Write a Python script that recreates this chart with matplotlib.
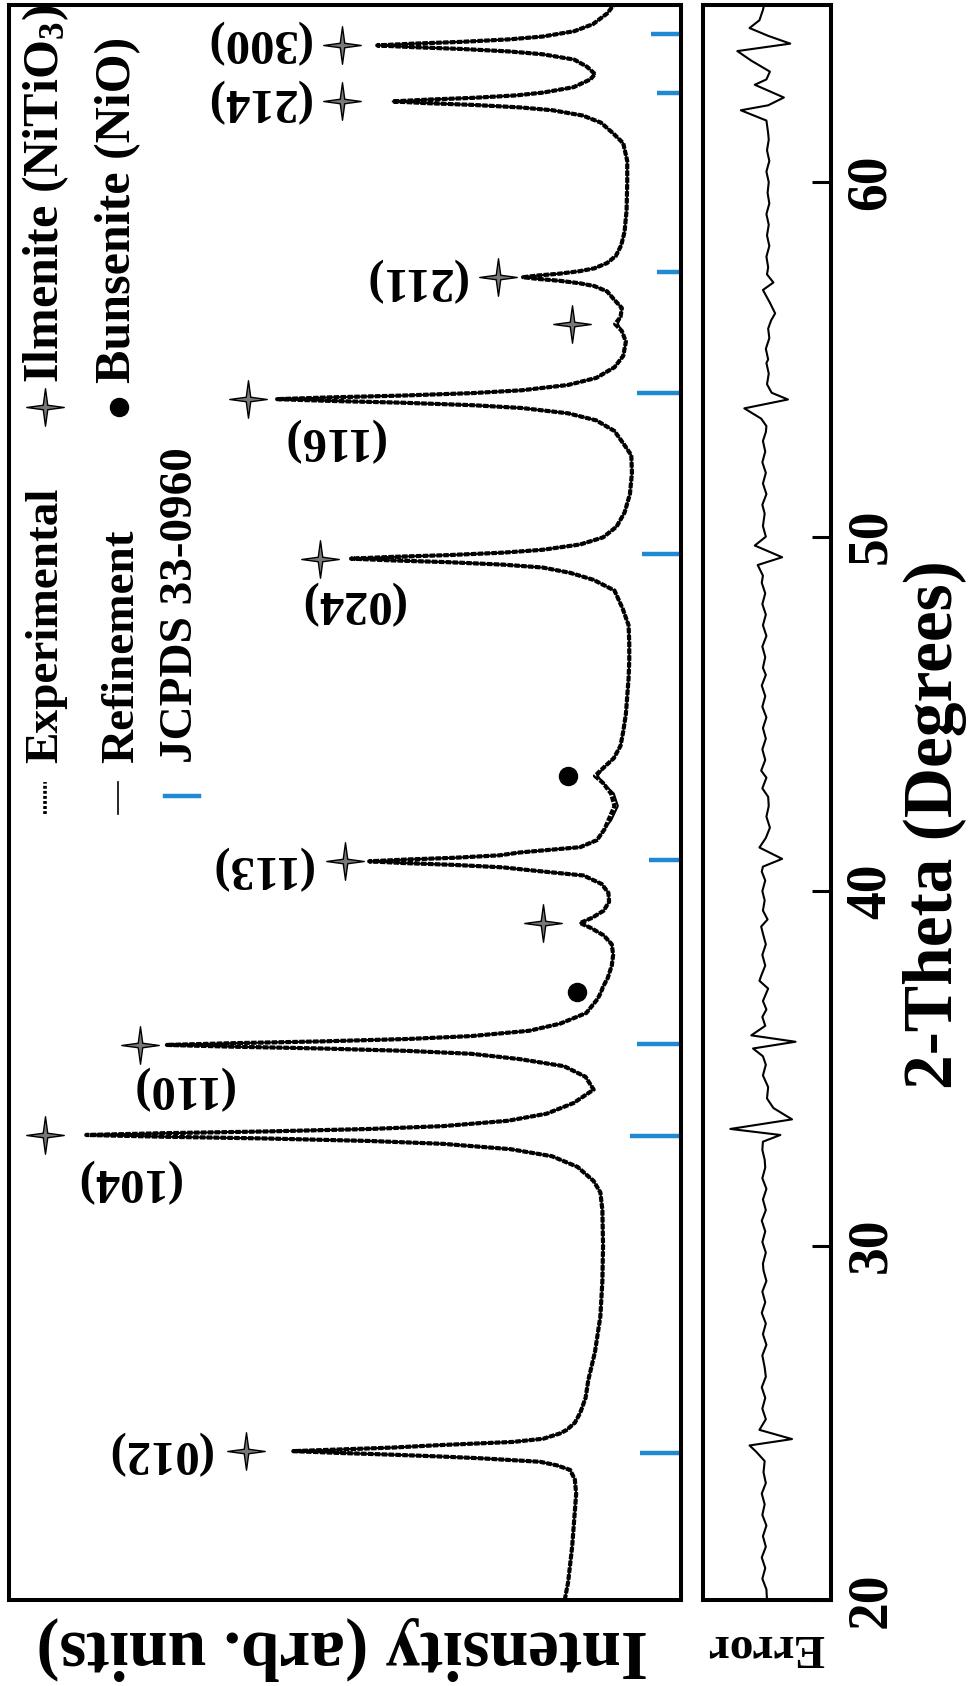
import numpy as np
import matplotlib
matplotlib.use("Agg")
import matplotlib.pyplot as plt
from matplotlib.path import Path

plt.rcParams['font.family'] = ['Liberation Serif', 'DejaVu Serif']
plt.rcParams['font.weight'] = 'bold'
plt.rcParams['mathtext.fontset'] = 'custom'
plt.rcParams['mathtext.rm'] = 'Liberation Serif:bold'
plt.rcParams['mathtext.it'] = 'Liberation Serif:bold'
plt.rcParams['mathtext.bf'] = 'Liberation Serif:bold'

# ---- data (chart is drawn rotated: 2-theta runs upward) ----
two_theta = [20.0, 20.5, 21.0, 21.5, 22.0, 22.5, 23.0, 23.4, 23.67, 23.8, 23.9, 24.0, 24.05, 24.1,
             24.15, 24.2, 24.25, 24.3, 24.37, 24.46, 24.55, 24.7, 24.8, 25.0, 25.28, 25.7, 26.2, 27.0,
             28.0, 29.0, 30.0, 31.0, 31.5,
             31.82, 32.22, 32.52, 32.72, 32.87, 32.95, 33.02, 33.07, 33.12, 33.17, 33.22,
             33.29, 33.37, 33.52, 33.72, 34.02, 34.4, 34.76, 35.06, 35.26, 35.41, 35.49, 35.56, 35.61,
             35.66, 35.71, 35.76, 35.83, 35.91, 36.06, 36.26, 36.56, 36.96, 37.15, 37.3, 37.55, 37.9,
             38.2, 38.5, 38.75, 38.95, 39.1, 39.25, 39.45, 39.7, 39.95, 40.2, 40.44, 40.59, 40.67,
             40.74, 40.79, 40.84, 40.89, 40.94, 41.01, 41.09, 41.24, 41.44, 41.74, 42.0, 42.4, 42.75,
             43.05, 43.25, 43.45, 43.75, 44.1, 44.5, 45.0, 45.5, 46.0, 46.5, 47.0, 47.5, 47.98, 48.48,
             48.78, 48.98, 49.13, 49.21, 49.28, 49.33, 49.38, 49.43, 49.48, 49.55, 49.63, 49.78, 49.98,
             50.28, 50.68, 51.2, 51.8, 52.3, 52.58, 52.98, 53.28, 53.48, 53.63, 53.71, 53.78, 53.83,
             53.88, 53.93, 53.98, 54.05, 54.13, 54.28, 54.48, 54.78, 55.1, 55.5, 55.8, 56.0, 56.2,
             56.45, 56.7, 56.92, 57.07, 57.15, 57.22, 57.27, 57.32, 57.37, 57.42, 57.49, 57.57, 57.72,
             57.92, 58.22, 58.6, 59.2, 60.0, 60.6, 61.1, 61.38, 61.68, 61.88, 62.03, 62.11, 62.18,
             62.23, 62.28, 62.33, 62.38, 62.45, 62.53, 62.68, 62.9, 63.05, 63.26, 63.46, 63.61, 63.69,
             63.76, 63.81, 63.86, 63.91, 63.96, 64.03, 64.11, 64.26, 64.46, 64.76, 65.0]
intensity_exp = [173, 168, 165, 162, 160, 158, 156, 158, 165, 185, 210, 300, 360, 430,
                 510, 577, 505, 430, 359, 250, 205, 180, 170, 158, 150, 142, 138, 128,
                 120, 117, 116, 117, 120,
                 130, 154, 192, 254, 354, 462, 615, 770, 885, 770, 615,
                 462, 354, 258, 200, 160, 130, 142, 174, 240, 312, 404, 535, 666,
                 765, 666, 535, 404, 312, 226, 180, 141, 124, 119, 116, 109, 103,
                 101, 103, 115, 133, 150, 132, 115, 107, 108, 118, 145, 225, 265,
                 338, 410, 464, 410, 338, 270, 240, 150, 125, 114, 108, 99, 104,
                 116, 128, 117, 100, 90, 86, 82, 80, 78, 77, 77, 78, 87, 99,
                 130, 165, 206, 264, 346, 429, 491, 429, 346, 264, 206, 150, 116,
                 96, 84, 76, 73, 74, 84, 99, 126, 168, 237, 311, 416, 522,
                 601, 522, 416, 311, 237, 168, 126, 99, 86, 82, 88, 98, 90,
                 88, 100, 110, 129, 151, 181, 212, 235, 212, 181, 151, 129, 110,
                 97, 89, 84, 81, 80, 80, 86, 101, 119, 146, 191, 239, 308,
                 377, 429, 377, 310, 245, 205, 160, 135, 128, 140, 159, 206, 256,
                 327, 398, 452, 398, 327, 256, 206, 159, 131, 110, 100]
# where the refinement line visibly departs from the measured one
refine_fix = {42.0: 104, 42.4: 94, 42.75: 100, 43.25: 124, 33.12: 878, 35.66: 758, 56.0: 94}
intensity_ref = [refine_fix.get(t, v) for t, v in zip(two_theta, intensity_exp)]

# JCPDS 33-0960 reference lines
jcpds_theta = [24.15, 33.1, 35.68, 40.88, 49.5, 54.05, 57.48, 62.52, 64.18]
jcpds_len = [61, 76, 65, 48, 58, 65, 36, 36, 45]

# indexed ilmenite peaks
hkl_labels = ['(012)', '(104)', '(110)', '(113)', '(024)', '(116)', '(211)', '(214)', '(300)']
hkl_theta = [24.2, 33.12, 35.66, 40.84, 49.38, 53.88, 57.32, 62.28, 63.86]
star_int = [647, 946, 805, 500, 537, 644, 272, 504, 504]
label_theta = [24.18, 31.85, 34.48, 40.69, 48.14, 52.74, 57.28, 62.31, 63.97]
label_int = [778, 824, 744, 625, 491, 519, 397, 631, 631]
# minor ilmenite peaks and NiO peaks
minor_theta = [39.1, 56.0]
minor_int = [205, 162]
nio_theta = [37.15, 43.24]
nio_int = [155, 168]

# difference curve
err_theta = [20.0, 20.3, 20.6, 20.9, 21.2, 21.5, 21.8, 22.1, 22.4, 22.7, 23.0, 23.3, 23.6, 23.92,
             24.19, 24.36, 24.54, 24.8, 25.1, 25.4, 25.7, 26.0, 26.3, 26.56, 26.9, 27.2, 27.5, 27.8,
             28.1, 28.4, 28.7, 29.0, 29.3, 29.49, 29.8, 30.1, 30.4, 30.7, 31.0, 31.3, 31.6, 31.9,
             32.2, 32.42, 32.7, 32.93, 33.12, 33.29, 33.56, 33.88, 34.15, 34.47, 34.8, 35.1, 35.34,
             35.56, 35.75, 35.93, 36.2, 36.45, 36.66, 36.9, 37.25, 37.47, 37.61, 37.9, 38.2, 38.5,
             38.8, 39.0, 39.2, 39.45, 39.74, 40.0, 40.3, 40.55, 40.69, 40.91, 41.23, 41.5, 41.79,
             42.1, 42.4, 42.66, 42.9, 43.2, 43.4, 43.7, 44.0, 44.3, 44.6, 44.9, 45.2, 45.5, 45.8,
             46.1, 46.3, 46.6, 46.9, 47.2, 47.5, 47.8, 48.1, 48.4, 48.7, 48.9, 49.2, 49.42, 49.75,
             50.0, 50.3, 50.65, 50.9, 51.2, 51.5, 51.8, 52.1, 52.4, 52.7, 52.95, 53.12, 53.33, 53.62,
             53.87, 54.06, 54.3, 54.6, 54.9, 55.0, 55.3, 55.6, 55.87, 56.1, 56.3, 56.6, 56.96, 57.17,
             57.4, 57.6, 57.9, 58.2, 58.5, 58.8, 59.1, 59.4, 59.7, 60.0, 60.3, 60.6, 60.9, 61.2,
             61.38, 61.74, 62.03, 62.17, 62.39, 62.75, 62.9, 63.12, 63.43, 63.7, 63.91, 64.13,
             64.35, 64.57, 64.86, 65.0]
err_val = [-0.5, -0.4, 0.3, -0.2, 0.4, -0.3, 0.2, -0.4, 0.3, -0.1, 0.4, -0.3, 0.1, -0.1,
           1.4, 2.5, -4.8, 0.8, -0.3, 0.3, -0.2, 0.4, -0.3, -0.1, 0.3, -0.4, 0.2, -0.3,
           0.4, -0.2, 0.3, -0.4, 0.1, 0.2, -0.3, 0.3, -0.2, 0.4, -0.3, 0.2, -0.4, 0.3,
           -0.2, -0.1, 0.3, 0.2, -2.8, 5.8, -4.8, -1.6, -0.5, -0.7, 0.2, -0.3, 0.2,
           1.9, -5.4, 2.2, -0.2, 0.3, -0.4, 0.2, -0.7, 0.8, 0.5, -0.2, 0.3, -0.3,
           0.2, 0.5, -0.6, 0.2, -0.1, 0.3, -0.2, 0.4, 0.2, -3.1, 0.8, -0.3, -1.0,
           -0.4, -0.8, -0.7, 0.3, -0.4, 0.5, -0.2, 0.3, -0.3, 0.2, -0.4, 0.3, -0.2, 0.4,
           -0.3, 0.2, -0.2, 0.3, -0.4, 0.2, -0.3, 0.3, -0.2, 0.4, 0.2, 1.1, -3.1, 1.6,
           -0.3, 0.2, -0.1, 0.3, -0.4, 0.2, -0.3, 0.3, -0.2, 0.2, -0.3, -0.4, 0.5, 3.4,
           -4.1, -1.3, -0.5, -0.8, -0.4, -0.7, -0.3, -0.9, -0.7, -1.2, -1.9, -1.0, 0.2, -1.6,
           -0.5, -0.7, -0.4, -0.9, -0.5, -0.8, -0.4, -0.9, -0.6, -0.8, -0.4, -0.9, -0.5, -0.8,
           -0.7, -0.4, 4.0, -0.7, -3.4, 1.6, -0.4, -1.0, 2.2, 4.6, -4.5, -0.7,
           2.5, 0.8, 0.2, 0.0]

BLUE = '#1f8ad2'
star_path = Path([(0, 1), (0.12, 0.12), (1, 0), (0.12, -0.12), (0, -1), (-0.12, -0.12),
                  (-1, 0), (-0.12, 0.12), (0, 1)],
                 [Path.MOVETO] + [Path.LINETO] * 7 + [Path.CLOSEPOLY])

fig = plt.figure(figsize=(9.77, 16.86), dpi=100)
ax = fig.add_axes([9 / 977, 86 / 1686, 672 / 977, 1595 / 1686])
ax_err = fig.add_axes([703 / 977, 86 / 1686, 128 / 977, 1595 / 1686])

# main panel
ax.plot(intensity_exp, two_theta, color='black', lw=3.0, ls=(0, (1.3, 0.35)), zorder=3)
ax.plot(intensity_ref, two_theta, color='black', lw=1.5, zorder=4)
ax.hlines(jcpds_theta, 0, jcpds_len, color=BLUE, lw=3.2, zorder=2)
ax.plot(star_int, hkl_theta, ls='none', marker=star_path, ms=27, mfc='#777777', mec='black', mew=1.0)
ax.plot(minor_int, minor_theta, ls='none', marker=star_path, ms=27, mfc='#777777', mec='black', mew=1.0)
ax.plot(nio_int, nio_theta, ls='none', marker='o', ms=13, color='black')
for lab, t, i in zip(hkl_labels, label_theta, label_int):
    ax.text(i, t, lab, rotation=180, ha='center', va='center', fontsize=35, fontweight='bold')

ax.set_xlim(1000, 0)
ax.set_ylim(20, 65)
ax.set_xticks([])
ax.set_yticks([])

# legend, written sideways like the rest of the figure
tr = ax.transAxes
ax.plot([0.0536, 0.0536], [0.493, 0.513], transform=tr, color='black', lw=2.6, ls=(0, (0.8, 0.6)))
ax.plot([0.162, 0.162], [0.493, 0.513], transform=tr, color='black', lw=1.2)
ax.plot([0.232, 0.283], [0.504, 0.504], transform=tr, color=BLUE, lw=3.2)
ax.text(0.055, 0.525, 'Experimental', transform=tr, rotation=90, ha='center', va='bottom', fontsize=34)
ax.text(0.168, 0.525, 'Refinement', transform=tr, rotation=90, ha='center', va='bottom', fontsize=34)
ax.text(0.256, 0.525, 'JCPDS 33-0960', transform=tr, rotation=90, ha='center', va='bottom', fontsize=34)
ax.plot([0.0536], [0.748], transform=tr, marker=star_path, ms=27, mfc='#777777', mec='black', mew=1.0)
ax.plot([0.164], [0.748], transform=tr, marker='o', ms=13, color='black')
ax.text(0.055, 0.763, r'Ilmenite (NiTiO$_3$)', transform=tr, rotation=90, ha='center', va='bottom', fontsize=36)
ax.text(0.162, 0.763, 'Bunsenite (NiO)', transform=tr, rotation=90, ha='center', va='bottom', fontsize=36)

# error panel
ax_err.plot(err_val, err_theta, color='black', lw=1.5)
ax_err.set_xlim(10.5, -11.5)
ax_err.set_ylim(20, 65)
ax_err.set_xticks([])
ax_err.set_yticks([20, 30, 40, 50, 60])
ax_err.yaxis.tick_right()
ax_err.tick_params(axis='y', direction='in', length=14, width=2.2, labelsize=40, pad=10,
                   labelrotation=90)
for lab in ax_err.get_yticklabels():
    lab.set_va('center')
    lab.set_fontweight('bold')

for a in (ax, ax_err):
    for sp in a.spines.values():
        sp.set_linewidth(2.9)

fig.text(935 / 977, 0.511, '2-Theta (Degrees)', rotation=90, ha='center', va='center', fontsize=50)
fig.text(342 / 977, 0.0225, 'Intensity (arb. units)', rotation=180, ha='center', va='center', fontsize=50)
fig.text(766 / 977, 0.0235, 'Error', rotation=180, ha='center', va='center', fontsize=34)

fig.savefig('out.png', dpi=100)
